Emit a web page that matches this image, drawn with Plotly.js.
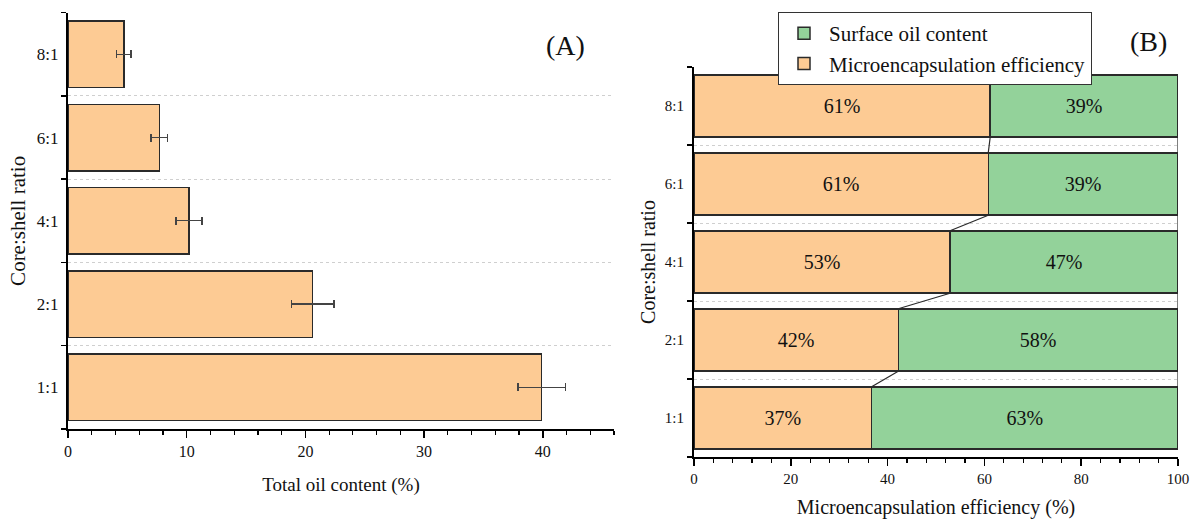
<!DOCTYPE html>
<html><head><meta charset="utf-8">
<script src="https://cdn.plot.ly/plotly-3.0.1.min.js"></script>
<style>html,body{margin:0;padding:0;background:#fff}#chart{width:1197px;height:519px}</style>
</head><body><div id="chart"></div>
<script>
// Data (bottom to top)
const ratios = ["1:1", "2:1", "4:1", "6:1", "8:1"];
const totalOil = [39.9, 20.6, 10.2, 7.7, 4.7];
const totalOilErr = [2.0, 1.8, 1.1, 0.7, 0.6];
const encapEff = [36.7, 42.2, 52.9, 60.8, 61.2];
const surfaceOil = [63.3, 57.8, 47.1, 39.2, 38.8];

const orange = "rgb(253,203,148)";
const green = "rgb(147,210,154)";
const outline = "#2a2a2a";
const serif = "Liberation Serif, Times New Roman, serif";

// connecting lines between stacked segments (Origin style)
const half = 0.4;
const linkX = [], linkY = [];
for (let i = 0; i < ratios.length - 1; i++) {
  linkX.push(encapEff[i], encapEff[i + 1], null);
  linkY.push(i + half, i + 1 - half, null);
  linkX.push(encapEff[i] + surfaceOil[i], encapEff[i + 1] + surfaceOil[i + 1], null);
  linkY.push(i + half, i + 1 - half, null);
}

const traces = [
  {
    type: "bar", orientation: "h", y: ratios, x: totalOil,
    xaxis: "x", yaxis: "y", width: 0.8, showlegend: false,
    marker: {color: orange, line: {color: outline, width: 1.5}},
    error_x: {type: "data", array: totalOilErr, color: "#444", thickness: 1.3, width: 4},
    hoverinfo: "x+y"
  },
  {
    type: "bar", orientation: "h", y: ratios, x: encapEff, name: "Microencapsulation efficiency",
    xaxis: "x2", yaxis: "y2", width: 0.8,
    marker: {color: orange, line: {color: outline, width: 1.5}},
    texttemplate: "%{x:.0f}%", textposition: "inside", insidetextanchor: "middle",
    textfont: {family: serif, size: 20, color: "#111"}, constraintext: "none"
  },
  {
    type: "bar", orientation: "h", y: ratios, x: surfaceOil, name: "Surface oil content",
    xaxis: "x2", yaxis: "y2", width: 0.8,
    marker: {color: green, line: {color: outline, width: 1.5}},
    texttemplate: "%{x:.0f}%", textposition: "inside", insidetextanchor: "middle",
    textfont: {family: serif, size: 20, color: "#111"}, constraintext: "none"
  },
  {
    type: "scatter", mode: "lines", x: linkX, y: linkY, xaxis: "x2", yaxis: "y3",
    line: {color: outline, width: 1.2}, showlegend: false, hoverinfo: "skip", connectgaps: false
  }
];

const H = 519, W = 1197;
const layout = {
  width: W, height: H,
  margin: {l: 0, r: 0, t: 0, b: 0},
  paper_bgcolor: "#fff", plot_bgcolor: "rgba(0,0,0,0)",
  font: {family: serif, color: "#111", size: 15},
  barmode: "stack",
  showlegend: true,
  legend: {
    x: 778 / W, y: 1 - 12 / H, xanchor: "left", yanchor: "top",
    traceorder: "reversed", bordercolor: "#333", borderwidth: 1,
    font: {family: serif, size: 21, color: "#111"}, bgcolor: "#fff",
    itemwidth: 40, tracegroupgap: 0
  },
  xaxis: {
    domain: [68 / W, 614 / W], anchor: "y", range: [0, 46],
    tick0: 0, dtick: 10, ticks: "outside", ticklen: 7, tickwidth: 1.5, tickcolor: "#000",
    minor: {dtick: 2, ticks: "outside", ticklen: 4, tickwidth: 1.2, tickcolor: "#000", showgrid: false},
    showline: true, linecolor: "#000", linewidth: 2, showgrid: false, zeroline: false,
    tickfont: {size: 16},
    title: {text: "Total oil content (%)", font: {size: 19}, standoff: 18}
  },
  yaxis: {
    domain: [1 - 429 / H, 1 - 12.7 / H], anchor: "x", type: "category",
    categoryorder: "array", categoryarray: ratios, range: [-0.5, 4.5],
    tickson: "boundaries", ticks: "outside", ticklen: 5, tickwidth: 1.5, tickcolor: "#000",
    ticklabelstandoff: 4,
    showline: true, linecolor: "#000", linewidth: 2,
    showgrid: true, gridcolor: "#cfcfcf", griddash: "dot", gridwidth: 1,
    tickfont: {size: 17},
    title: {text: "Core:shell ratio", font: {size: 21}, standoff: 6}
  },
  xaxis2: {
    domain: [694 / W, 1178 / W], anchor: "y2", range: [0, 100],
    tick0: 0, dtick: 20, ticks: "outside", ticklen: 7, tickwidth: 1.5, tickcolor: "#000",
    minor: {dtick: 4, ticks: "outside", ticklen: 4, tickwidth: 1.2, tickcolor: "#000", showgrid: false},
    showline: true, linecolor: "#000", linewidth: 2, showgrid: false, zeroline: false,
    tickfont: {size: 15},
    title: {text: "Microencapsulation efficiency (%)", font: {size: 20}, standoff: 14}
  },
  yaxis2: {
    domain: [1 - 457 / H, 1 - 67 / H], anchor: "x2", type: "category",
    categoryorder: "array", categoryarray: ratios, range: [-0.5, 4.5],
    tickson: "boundaries", ticks: "outside", ticklen: 5, tickwidth: 1.5, tickcolor: "#000",
    ticklabelstandoff: 5,
    showline: true, linecolor: "#000", linewidth: 2,
    showgrid: true, gridcolor: "#cfcfcf", griddash: "dot", gridwidth: 1,
    tickfont: {size: 15},
    title: {text: "Core:shell ratio", font: {size: 20}, standoff: 4}
  },
  yaxis3: {
    overlaying: "y2", anchor: "x2", range: [-0.5, 4.5], visible: false, fixedrange: true
  },
  annotations: [
    {text: "(A)", xref: "paper", yref: "paper", x: 565 / W, y: 1 - 45 / H, showarrow: false,
     font: {family: serif, size: 28, color: "#111"}, xanchor: "center", yanchor: "middle"},
    {text: "(B)", xref: "paper", yref: "paper", x: 1148 / W, y: 1 - 42 / H, showarrow: false,
     font: {family: serif, size: 28, color: "#111"}, xanchor: "center", yanchor: "middle"}
  ]
};

Plotly.newPlot("chart", traces, layout, {displayModeBar: false, staticPlot: true});
</script>
</body></html>
